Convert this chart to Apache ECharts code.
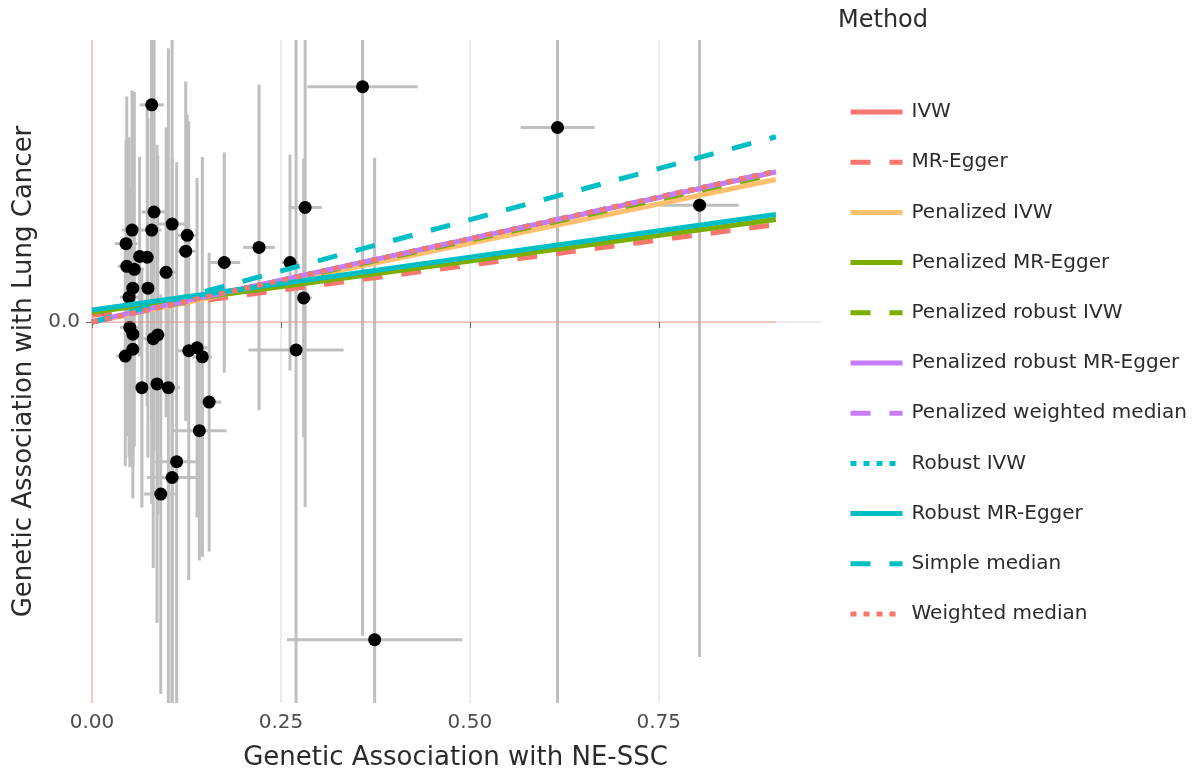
<!DOCTYPE html>
<html>
<head>
<meta charset="utf-8">
<script src="https://cdn.jsdelivr.net/npm/echarts@6/dist/echarts.min.js"></script>
<style>
  html, body { margin: 0; padding: 0; background: #ffffff; }
  #chart { width: 1194px; height: 776px; }
</style>
</head>
<body>
<div id="chart"></div>
<script>
// Per-variant associations: exposure (NE-SSC) and outcome (lung cancer), with standard errors
const betaExposure = [0.079, 0.082, 0.106, 0.053, 0.079, 0.126, 0.045, 0.124, 0.175, 0.063,
                      0.073, 0.046, 0.056, 0.098, 0.054, 0.074, 0.049, 0.050, 0.054, 0.087,
                      0.081, 0.054, 0.044, 0.128, 0.139, 0.146, 0.066, 0.086, 0.101, 0.155,
                      0.142, 0.112, 0.106, 0.091, 0.221, 0.262, 0.282, 0.280, 0.270, 0.358,
                      0.616, 0.804, 0.374];
const betaOutcome = [0.288, 0.146, 0.130, 0.122, 0.122, 0.115, 0.104, 0.094, 0.079, 0.087,
                     0.086, 0.074, 0.070, 0.066, 0.045, 0.045, 0.033, -0.007, -0.016, -0.017,
                     -0.022, -0.036, -0.045, -0.038, -0.034, -0.046, -0.087, -0.082, -0.087, -0.106,
                     -0.144, -0.185, -0.206, -0.228, 0.099, 0.079, 0.152, 0.032, -0.037, 0.312,
                     0.258, 0.155, -0.421];
const seExposure = [0.016, 0.016, 0.020, 0.013, 0.013, 0.013, 0.015, 0.013, 0.021, 0.013,
                    0.012, 0.012, 0.013, 0.014, 0.012, 0.013, 0.012, 0.013, 0.012, 0.014,
                    0.013, 0.012, 0.012, 0.014, 0.014, 0.013, 0.013, 0.014, 0.015, 0.016,
                    0.036, 0.029, 0.033, 0.022, 0.021, 0.011, 0.022, 0.011, 0.063, 0.073,
                    0.049, 0.052, 0.116];
const seOutcome = [0.529, 0.317, 0.635, 0.185, 0.251, 0.160, 0.138, 0.225, 0.146, 0.132,
                   0.198, 0.225, 0.235, 0.192, 0.238, 0.225, 0.212, 0.185, 0.172, 0.238,
                   0.304, 0.198, 0.146, 0.304, 0.225, 0.265, 0.159, 0.317, 0.450, 0.198,
                   0.172, 0.397, 0.423, 0.265, 0.216, 0.143, 0.397, 0.185, 0.800, 0.728,
                   0.794, 0.599, 0.639];

// Causal estimates per method (intercept, slope)
const methods = ['IVW', 'MR-Egger', 'Penalized IVW', 'Penalized MR-Egger', 'Penalized robust IVW',
                 'Penalized robust MR-Egger', 'Penalized weighted median', 'Robust IVW',
                 'Robust MR-Egger', 'Simple median', 'Weighted median'];
const methodIntercepts = [0, 0.009, 0, 0.013, 0, 0.001, 0, 0, 0.016, 0, 0];
const methodSlopes = [0.220, 0.133, 0.209, 0.136, 0.217, 0.219, 0.221, 0.221, 0.140, 0.2715, 0.221];

const methodColors = ['#F8766D', '#F8766D', '#FFC06E', '#7CAE00', '#7CAE00',
                      '#C77CFF', '#C77CFF', '#00BFC4', '#00BFC4', '#00BFC4', '#F8766D'];
const DASH = [20, 19], DOT = [6, 7];
const methodDash = ['solid', DASH, 'solid', 'solid', DASH, 'solid', DASH, DOT, 'solid', DASH, DOT];

const xTicks = [0, 0.25, 0.5, 0.75];
const yTicks = [0];
const X_MIN = -0.004, X_MAX = 0.966;
const Y_MIN = -0.505, Y_MAX = 0.374;
const LINE_END = 0.905;

const FONT = 'DejaVu Sans';

const points = betaExposure.map((x, i) => [x, betaOutcome[i], seExposure[i], seOutcome[i]]);

const errorBars = {
  type: 'custom',
  name: 'errors',
  clip: true,
  silent: true,
  data: points,
  encode: { x: 0, y: 1 },
  renderItem: function (params, api) {
    const x = api.value(0), y = api.value(1), sx = api.value(2), sy = api.value(3);
    const lo = Math.max(Y_MIN, y - sy), hi = Math.min(Y_MAX, y + sy);
    const v1 = api.coord([x, lo]), v2 = api.coord([x, hi]);
    const h1 = api.coord([x - sx, y]), h2 = api.coord([x + sx, y]);
    const style = { stroke: '#bfbfbf', lineWidth: 3 };
    return {
      type: 'group',
      children: [
        { type: 'line', shape: { x1: v1[0], y1: v1[1], x2: v2[0], y2: v2[1] }, style: style },
        { type: 'line', shape: { x1: h1[0], y1: h1[1], x2: h2[0], y2: h2[1] }, style: style }
      ]
    };
  }
};

// Reference lines at zero
const zeroV = {
  type: 'line', name: 'zeroV', silent: true, showSymbol: false, symbol: 'none',
  data: [[0, Y_MIN], [0, Y_MAX]],
  lineStyle: { color: '#F8766D', width: 1.2, opacity: 0.5 }
};
const zeroH = {
  type: 'line', name: 'zeroH', silent: true, showSymbol: false, symbol: 'none',
  data: [[0, 0], [LINE_END, 0]],
  lineStyle: { color: '#F8766D', width: 1.2, opacity: 0.5 }
};

const scatter = {
  type: 'scatter', name: 'variants', silent: true,
  data: points.map(p => [p[0], p[1]]),
  symbolSize: 13,
  itemStyle: { color: '#000000', opacity: 1 },
  markLine: {
    silent: true, symbol: 'none', z: 0,
    label: { show: false },
    lineStyle: { color: '#e6e6e6', width: 1.5, type: 'solid' },
    data: xTicks.map(v => ({ xAxis: v })).concat(yTicks.map(v => ({ yAxis: v })))
  }
};

const methodSeries = methods.map((m, i) => ({
  type: 'line',
  name: m,
  silent: true,
  symbol: 'none',
  showSymbol: false,
  data: [[0, methodIntercepts[i]], [LINE_END, methodIntercepts[i] + methodSlopes[i] * LINE_END]],
  lineStyle: { color: methodColors[i], width: 5, type: methodDash[i], cap: 'butt' },
  itemStyle: { color: methodColors[i] }
}));

const chart = echarts.init(document.getElementById('chart'), null, { renderer: 'canvas' });
chart.setOption({
  animation: false,
  backgroundColor: '#ffffff',
  title: {
    text: 'Method', left: 838, top: 9, padding: 0,
    textStyle: { fontFamily: FONT, fontSize: 24, fontWeight: 'normal', color: '#2b2b2b' }
  },
  legend: {
    data: methods,
    orient: 'vertical',
    left: 848, top: 102, padding: 0,
    itemWidth: 52, itemHeight: 20, itemGap: 30.2,
    selectedMode: false,
    itemStyle: { opacity: 0 },
    lineStyle: { width: 5 },
    textStyle: { fontFamily: FONT, fontSize: 20, color: '#2b2b2b', lineHeight: 20, padding: [0, 0, 0, 4] }
  },
  grid: { left: 89, right: 372, top: 40, bottom: 71, containLabel: false },
  xAxis: {
    type: 'value', min: X_MIN, max: X_MAX,
    name: 'Genetic Association with NE-SSC',
    nameLocation: 'middle', nameGap: 42,
    nameTextStyle: { fontFamily: FONT, fontSize: 26, color: '#2b2b2b' },
    axisLine: { show: false },
    axisTick: { show: true, customValues: xTicks, length: 6, lineStyle: { color: '#666', width: 1 } },
    axisLabel: { customValues: xTicks, formatter: v => v.toFixed(2), margin: 10,
                 fontFamily: FONT, fontSize: 20, color: '#4d4d4d' },
    splitLine: { show: false }
  },
  yAxis: {
    type: 'value', min: Y_MIN, max: Y_MAX,
    name: 'Genetic Association with Lung Cancer',
    nameLocation: 'middle', nameGap: 51,
    nameTextStyle: { fontFamily: FONT, fontSize: 26, color: '#2b2b2b' },
    axisLine: { show: false },
    axisTick: { show: true, customValues: yTicks, length: 6, lineStyle: { color: '#666', width: 1 } },
    axisLabel: { customValues: yTicks, formatter: v => v.toFixed(1), margin: 9,
                 fontFamily: FONT, fontSize: 20, color: '#4d4d4d' },
    splitLine: { show: false }
  },
  series: [errorBars, zeroV, zeroH, scatter].concat(methodSeries)
});
</script>
</body>
</html>
